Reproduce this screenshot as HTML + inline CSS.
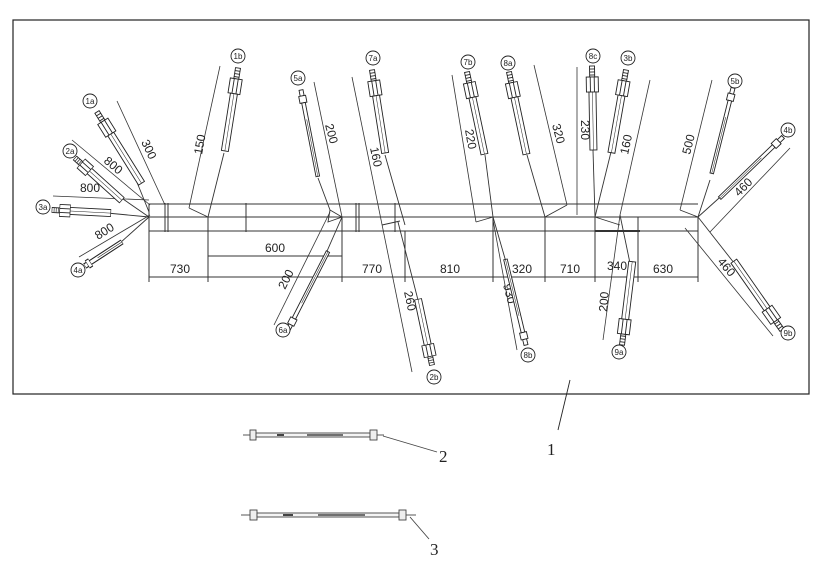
<!DOCTYPE html>
<html><head><meta charset="utf-8"><style>
html,body{margin:0;padding:0;background:#fff;}
svg{display:block;}
text{font-family:"Liberation Sans",sans-serif;fill:#222;}
</style></head><body>
<svg width="833" height="584" viewBox="0 0 833 584" xmlns="http://www.w3.org/2000/svg">
<defs>
<g id="fit" stroke="#222" stroke-width="0.9" fill="#fff">
<rect x="0" y="-2.5" width="11" height="5"/>
<line x1="3" y1="-2.5" x2="3" y2="2.5"/><line x1="6" y1="-2.5" x2="6" y2="2.5"/><line x1="9" y1="-2.5" x2="9" y2="2.5"/>
<rect x="11" y="-6" width="15" height="12"/>
<line x1="11" y1="-2" x2="26" y2="-2"/><line x1="11" y1="2" x2="26" y2="2"/>
<rect x="26" y="-3.5" width="58" height="7"/>
<line x1="26" y1="0" x2="84" y2="0" stroke-width="0.5"/>
</g>
<g id="thin" stroke="#222" stroke-width="0.9" fill="#fff">
<rect x="0" y="-2" width="6" height="4"/>
<rect x="6" y="-3.5" width="7" height="7"/>
<rect x="13" y="-1.8" width="75" height="3.6"/>
<line x1="30" y1="0" x2="88" y2="0" stroke-width="0.5"/>
</g>
<g id="lab" fill="#fff" stroke="#222" stroke-width="0.9"><circle r="7"/></g>
</defs>
<rect x="13" y="20" width="796" height="374" fill="none" stroke="#222" stroke-width="1.2"/>

<!-- trunk -->
<g stroke="#333" stroke-width="1" fill="none">
<line x1="149" y1="204" x2="698" y2="204"/>
<line x1="149" y1="217" x2="698" y2="217"/>
<line x1="149" y1="231" x2="698" y2="231"/>
<line x1="149" y1="204" x2="149" y2="231"/>
<line x1="165" y1="203" x2="165" y2="232"/><line x1="168" y1="203" x2="168" y2="232"/>
<line x1="246" y1="203" x2="246" y2="232"/>
<line x1="356" y1="203" x2="356" y2="232"/><line x1="359" y1="203" x2="359" y2="232"/>
<line x1="395" y1="203" x2="395" y2="232"/>
<line x1="595" y1="231" x2="640" y2="231" stroke-width="2"/>
<!-- extension lines -->
<line x1="149" y1="231" x2="149" y2="282"/>
<line x1="208" y1="217" x2="208" y2="282"/>
<line x1="342" y1="217" x2="342" y2="282"/>
<line x1="405" y1="231" x2="405" y2="282"/>
<line x1="493" y1="217" x2="493" y2="282"/>
<line x1="545" y1="217" x2="545" y2="282"/>
<line x1="595" y1="217" x2="595" y2="282"/>
<line x1="638" y1="217" x2="638" y2="282"/>
<line x1="698" y1="217" x2="698" y2="282"/>
<!-- dim lines -->
<line x1="149" y1="277" x2="698" y2="277"/>
<line x1="208" y1="256" x2="342" y2="256"/>
</g>
<g font-size="12">
<text x="170" y="273">730</text>
<text x="265" y="252">600</text>
<text x="362" y="273">770</text>
<text x="440" y="273">810</text>
<text x="512" y="273">320</text>
<text x="560" y="273">710</text>
<text x="607" y="270">340</text>
<text x="653" y="273">630</text>
</g>

<!-- branch leaders -->
<g stroke="#333" stroke-width="0.9" fill="none">
<line x1="130" y1="165" x2="149" y2="212"/>
<line x1="110" y1="190" x2="149" y2="217"/>
<line x1="107" y1="213" x2="149" y2="217"/>
<line x1="120" y1="243" x2="149" y2="217"/>
<line x1="224" y1="153" x2="208" y2="217"/>
<line x1="318" y1="178" x2="330" y2="210"/>
<path d="M330 210 L342 217 L328 222 Z"/>
<line x1="324" y1="258" x2="342" y2="217"/>
<line x1="385" y1="155" x2="405" y2="225"/>
<line x1="418" y1="300" x2="398" y2="222"/>
<line x1="382" y1="225" x2="400" y2="221"/>
<line x1="485" y1="155" x2="493" y2="217"/>
<line x1="476" y1="222" x2="493" y2="217"/>
<line x1="506" y1="262" x2="493" y2="217"/>
<line x1="527" y1="155" x2="545" y2="217"/>
<line x1="545" y1="217" x2="567" y2="205"/>
<line x1="593" y1="150" x2="595" y2="217"/>
<line x1="611" y1="152" x2="595" y2="217"/>
<line x1="595" y1="217" x2="620" y2="225"/>
<line x1="631" y1="268" x2="620" y2="215"/>
<line x1="710" y1="180" x2="698" y2="217"/>
<line x1="728" y1="190" x2="698" y2="217"/>
<line x1="738" y1="268" x2="698" y2="217"/>
<line x1="680" y1="210" x2="698" y2="217"/>
</g>

<!-- dimension lines for branches -->
<g stroke="#333" stroke-width="0.8">
<line x1="117" y1="101" x2="165" y2="205"/>
<line x1="72" y1="140" x2="150" y2="205"/>
<line x1="53" y1="196" x2="149" y2="200"/>
<line x1="79" y1="257" x2="150" y2="215"/>
<line x1="220" y1="66" x2="189" y2="208"/>
<line x1="189" y1="208" x2="208" y2="217"/>
<line x1="314" y1="82" x2="342" y2="217"/>
<line x1="274" y1="325" x2="330" y2="212"/>
<line x1="352" y1="77" x2="412" y2="372"/>
<line x1="452" y1="75" x2="476" y2="222"/>
<line x1="493" y1="220" x2="517" y2="350"/>
<line x1="534" y1="65" x2="567" y2="205"/>
<line x1="577" y1="67" x2="577" y2="215"/>
<line x1="650" y1="80" x2="620" y2="215"/>
<line x1="603" y1="340" x2="620" y2="215"/>
<line x1="712" y1="80" x2="680" y2="210"/>
<line x1="790" y1="148" x2="710" y2="232"/>
<line x1="685" y1="228" x2="773" y2="336"/>
</g>
<g font-size="12">
<text transform="translate(141,142) rotate(65)">300</text>
<text transform="translate(103,162) rotate(40)">800</text>
<text x="80" y="192">800</text>
<text transform="translate(98,240) rotate(-32)">800</text>
<text transform="translate(202,155) rotate(-80)">150</text>
<text transform="translate(325,125) rotate(75)">200</text>
<text transform="translate(285,290) rotate(-63)">200</text>
<text transform="translate(370,148) rotate(78)">160</text>
<text transform="translate(404,292) rotate(78)">260</text>
<text transform="translate(465,130) rotate(80)">220</text>
<text transform="translate(503,285) rotate(75)">930</text>
<text transform="translate(552,125) rotate(75)">320</text>
<text transform="translate(581,120) rotate(90)">230</text>
<text transform="translate(628,155) rotate(-78)">160</text>
<text transform="translate(607,312) rotate(-85)">200</text>
<text transform="translate(690,155) rotate(-76)">500</text>
<text transform="translate(739,197) rotate(-45)">460</text>
<text transform="translate(717,262) rotate(50)">460</text>
</g>

<!-- fittings -->
<use href="#fit" transform="translate(97,112) rotate(58)"/>
<use href="#fit" transform="translate(75,158) rotate(42) scale(0.75,1)"/>
<use href="#fit" transform="translate(52,210) rotate(3) scale(0.7,1)"/>
<use href="#thin" transform="translate(85,266) rotate(-33) scale(0.5,1.2)"/>
<use href="#fit" transform="translate(238,68) rotate(99)"/>
<use href="#thin" transform="translate(301,90) rotate(79)"/>
<use href="#thin" transform="translate(288,330) rotate(-63)"/>
<use href="#fit" transform="translate(372,70) rotate(81)"/>
<use href="#fit" transform="translate(432,365) rotate(-102) scale(0.8,1)"/>
<use href="#fit" transform="translate(467,72) rotate(78)"/>
<use href="#fit" transform="translate(509,72) rotate(78)"/>
<use href="#thin" transform="translate(526,345) rotate(-103.5)"/>
<use href="#fit" transform="translate(592,66) rotate(89)"/>
<use href="#fit" transform="translate(626,70) rotate(100)"/>
<use href="#fit" transform="translate(622,345) rotate(-83)"/>
<use href="#thin" transform="translate(733,88) rotate(104)"/>
<use href="#thin" transform="translate(783,137) rotate(136)"/>
<use href="#fit" transform="translate(782,330) rotate(-125)"/>

<!-- labels -->
<g font-size="8" text-anchor="middle">
<use href="#lab" x="90" y="101"/><text x="90" y="104">1a</text>
<use href="#lab" x="70" y="151"/><text x="70" y="154">2a</text>
<use href="#lab" x="43" y="207"/><text x="43" y="210">3a</text>
<use href="#lab" x="78" y="270"/><text x="78" y="273">4a</text>
<use href="#lab" x="238" y="56"/><text x="238" y="59">1b</text>
<use href="#lab" x="298" y="78"/><text x="298" y="81">5a</text>
<use href="#lab" x="283" y="330"/><text x="283" y="333">6a</text>
<use href="#lab" x="373" y="58"/><text x="373" y="61">7a</text>
<use href="#lab" x="434" y="377"/><text x="434" y="380">2b</text>
<use href="#lab" x="468" y="62"/><text x="468" y="65">7b</text>
<use href="#lab" x="508" y="63"/><text x="508" y="66">8a</text>
<use href="#lab" x="528" y="355"/><text x="528" y="358">8b</text>
<use href="#lab" x="593" y="56"/><text x="593" y="59">8c</text>
<use href="#lab" x="628" y="58"/><text x="628" y="61">3b</text>
<use href="#lab" x="619" y="352"/><text x="619" y="355">9a</text>
<use href="#lab" x="735" y="81"/><text x="735" y="84">5b</text>
<use href="#lab" x="788" y="130"/><text x="788" y="133">4b</text>
<use href="#lab" x="788" y="333"/><text x="788" y="336">9b</text>
</g>

<!-- leader 1 -->
<line x1="570" y1="380" x2="558" y2="430" stroke="#222" stroke-width="0.9"/>
<text x="547" y="455" font-size="17" style="font-family:'Liberation Serif',serif">1</text>

<!-- part 2 -->
<g stroke="#444" stroke-width="0.9" fill="#eee">
<line x1="243" y1="435" x2="250" y2="435"/>
<rect x="250" y="430" width="6" height="10"/>
<rect x="256" y="433" width="114" height="4" fill="#f4f4f4"/>
<line x1="277" y1="435" x2="284" y2="435" stroke-width="2"/>
<line x1="307" y1="435" x2="343" y2="435" stroke-width="1.5"/>
<rect x="370" y="430" width="7" height="10"/>
<line x1="377" y1="435" x2="384" y2="435"/>
<line x1="383" y1="436" x2="437" y2="452"/>
<!-- part 3 -->
<line x1="241" y1="515" x2="250" y2="515"/>
<rect x="250" y="510" width="7" height="10"/>
<rect x="257" y="513" width="142" height="4" fill="#f4f4f4"/>
<line x1="283" y1="515" x2="293" y2="515" stroke-width="2"/>
<line x1="318" y1="515" x2="365" y2="515" stroke-width="1.5"/>
<rect x="399" y="510" width="7" height="10"/>
<line x1="406" y1="515" x2="416" y2="515"/>
<line x1="410" y1="517" x2="429" y2="539"/>
</g>
<text x="439" y="462" font-size="17" style="font-family:'Liberation Serif',serif">2</text>
<text x="430" y="555" font-size="17" style="font-family:'Liberation Serif',serif">3</text>
</svg>
</body></html>
